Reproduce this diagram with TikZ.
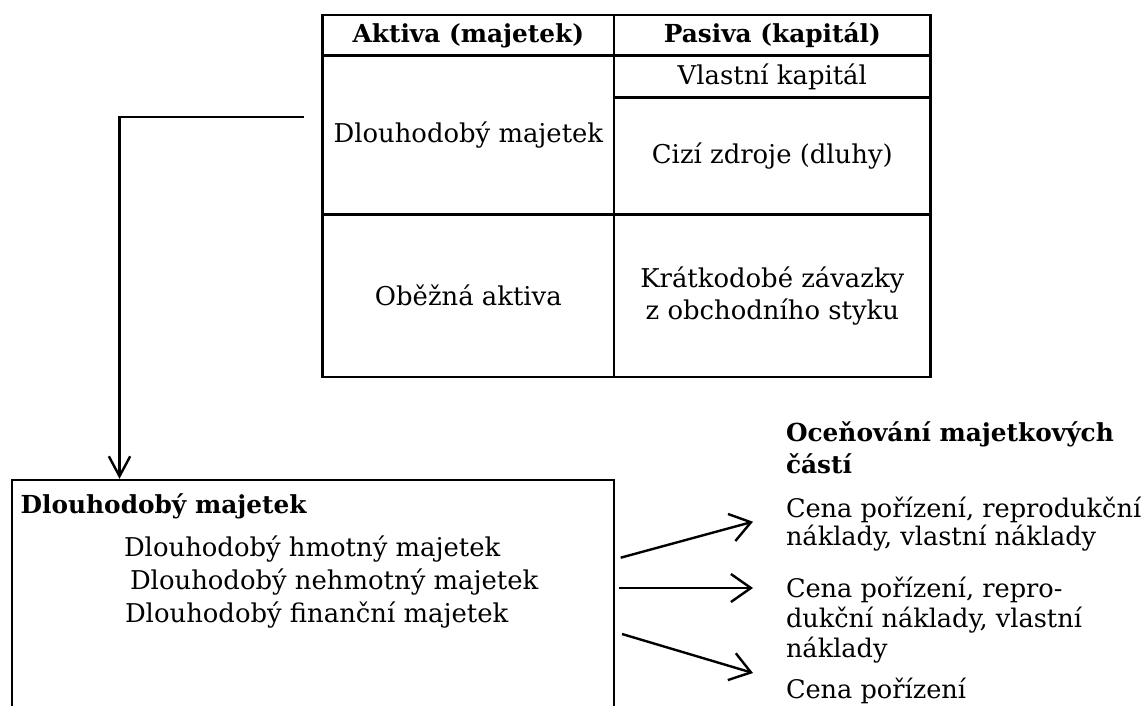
\documentclass[tikz,border=0pt]{standalone}
\usepackage{fontspec}
\setmainfont{DejaVu Serif}
\usetikzlibrary{arrows.meta}
\begin{document}
\begin{tikzpicture}[x=0.75pt,y=-0.75pt,
  line width=1.8pt,
  txt/.style={font=\fontsize{19.4}{24}\selectfont, inner sep=0pt, outer sep=0pt},
  bold/.style={font=\fontsize{18.6}{24}\selectfont\bfseries, inner sep=0pt, outer sep=0pt},
  cell/.style={draw, line width=1.8pt, inner sep=0pt, outer sep=0pt, align=center,
    font=\fontsize{19.4}{24}\selectfont},
  headcell/.style={cell, font=\fontsize{18.6}{24}\selectfont\bfseries},
  lcol/.style={minimum width=218.5pt},
  rcol/.style={minimum width=237.5pt},
  downarr/.style={-{Straight Barb[length=15pt,width=16pt]}, line width=1.8pt},
  arr/.style={-{Straight Barb[length=15pt,width=21pt]}, line width=1.8pt}
]
\useasboundingbox (0,0) rectangle (1147,706);
\clip (0,0) rectangle (1147,706);

% balance sheet table
\node[headcell, lcol, minimum height=30.5pt] (h1) at (468.35,35.35) {Aktiva (majetek)};
\node[headcell, rcol, minimum height=30.5pt] (h2) at (772.35,35.35) {Pasiva (kapitál)};
\node[cell, lcol, minimum height=119.25pt] (dm) at (468.35,135.2) {Dlouhodobý majetek};
\node[cell, rcol, minimum height=31.5pt] (vk) at (772.35,76.7) {Vlastní kapitál};
\node[cell, rcol, minimum height=87.75pt] (cz) at (772.35,156.2) {Cizí zdroje (dluhy)};
\node[cell, lcol, minimum height=121.5pt] (oa) at (468.35,295.7) {Oběžná aktiva};
\node[cell, rcol, minimum height=121.5pt] (kz) at (772.35,295.7) {Krátkodobé závazky\\z obchodního styku};

% long-term assets box
\node[draw, line width=1.8pt, minimum width=451.7pt, minimum height=187.5pt, inner sep=0pt] (box) at (312.85,605) {};
\node[bold, anchor=base west] (bh) at (20.7,513) {Dlouhodobý majetek};
\node[txt, anchor=base west] (i1) at (124,556) {Dlouhodobý hmotný majetek};
\node[txt, anchor=base west] (i2) at (130,589) {Dlouhodobý nehmotný majetek};
\node[txt, anchor=base west] (i3) at (125,622) {Dlouhodobý finanční majetek};

% valuation column (base anchor sits on the last line)
\node[bold, anchor=base west, align=left] (oc) at (786,473) {Oceňování majetkových\\částí};
\node[txt, anchor=base west, align=left, font=\fontsize{19.2}{21}\selectfont] (v1) at (786,545) {Cena pořízení, reprodukční\\náklady, vlastní náklady};
\node[txt, anchor=base west, align=left, font=\fontsize{19.2}{22.5}\selectfont] (v2) at (786,657) {Cena pořízení, repro-\\dukční náklady, vlastní\\náklady};
\node[txt, anchor=base west, font=\fontsize{19.2}{22.5}\selectfont] (v3) at (786,698) {Cena pořízení};

% connectors
\coordinate (hk) at (304,117);
\draw[downarr] (hk) -| ([xshift=81.75pt]box.north west);

\coordinate (s1) at (620.7,557.7);
\coordinate (e1) at (753,521.7);
\coordinate (s2) at (619,588);
\coordinate (e2) at (753,588);
\coordinate (s3) at (622,634);
\coordinate (e3) at (753,673);
\draw[arr] (s1) -- (e1);
\draw[arr] (s2) -- (e2);
\draw[arr] (s3) -- (e3);
\end{tikzpicture}
\end{document}
